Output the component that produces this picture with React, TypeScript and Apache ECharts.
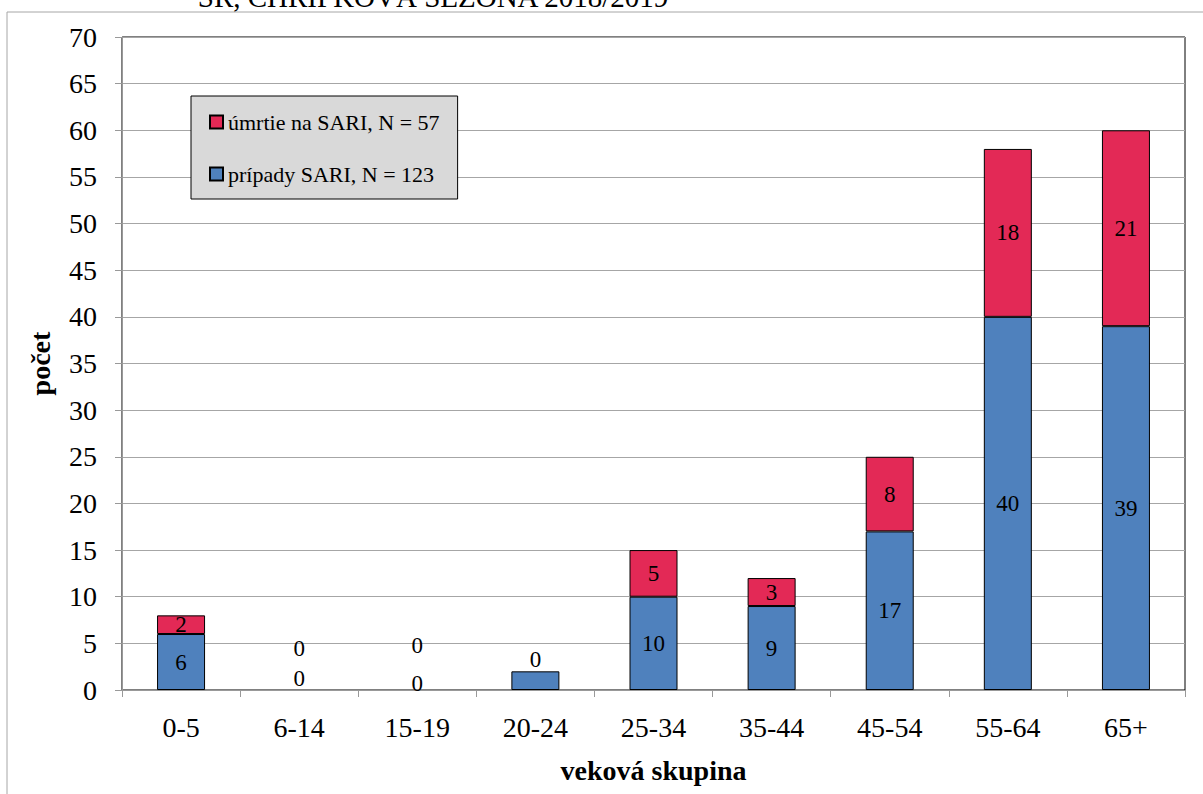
import React, { useEffect, useRef } from "react";
import * as echarts from "echarts";

const categories = ["0-5", "6-14", "15-19", "20-24", "25-34", "35-44", "45-54", "55-64", "65+"];
const casesSari = [6, 0, 0, 2, 10, 9, 17, 40, 39];
const deathsSari = [2, 0, 0, 0, 5, 3, 8, 18, 21];
const yTicks = { min: 0, max: 70, interval: 5 };
const casesName = "prípady SARI, N = 123";
const deathsName = "úmrtie na SARI, N = 57";
const titleText = "SR, CHRIPKOVÁ SEZÓNA 2018/2019";

// label tweaks (style only)
const casesLabelOffsets: Record<number, number[]> = { 1: [0, -12], 2: [0, -7] };
const casesLabelHidden = [3];
const deathsLabelOffsets: Record<number, number[]> = { 1: [0, -42], 2: [0, -45], 3: [0, -12] };

const FONT = "'Liberation Serif', 'Times New Roman', serif";

export default function App() {
  const ref = useRef<HTMLDivElement>(null);
  useEffect(() => {
    if (!ref.current) return;
    const chart = echarts.init(ref.current, null, { renderer: "svg" });
    const labelBase = { show: true, position: "inside", color: "#000", fontFamily: FONT, fontSize: 23 };
    const casesData = casesSari.map((v, i) => {
      const item: any = { value: v };
      if (v === 0) item.itemStyle = { borderWidth: 0 };
      if (casesLabelHidden.includes(i)) item.label = { show: false };
      else if (casesLabelOffsets[i]) item.label = { offset: casesLabelOffsets[i] };
      return item;
    });
    const deathsData = deathsSari.map((v, i) => {
      const item: any = { value: v };
      if (v === 0) item.itemStyle = { borderWidth: 0 };
      if (deathsLabelOffsets[i]) item.label = { offset: deathsLabelOffsets[i] };
      return item;
    });
    chart.setOption({
      animation: false,
      backgroundColor: "#fff",
      textStyle: { fontFamily: FONT },
      grid: {
        left: 122,
        right: 18,
        top: 37,
        bottom: 104,
        containLabel: false,
        show: true,
        borderColor: "#000",
        borderWidth: 1,
        backgroundColor: "transparent",
      },
      legend: {
        left: 191,
        top: 96,
        orient: "vertical",
        data: [deathsName, casesName],
        backgroundColor: "#d9d9d9",
        borderColor: "#000",
        borderWidth: 1,
        padding: [15, 18, 14, 18],
        itemGap: 30,
        itemWidth: 13,
        itemHeight: 13,
        icon: "rect",
        textStyle: { fontFamily: FONT, fontSize: 22, color: "#000" },
        selectedMode: false,
      },
      xAxis: {
        type: "category",
        data: categories,
        name: "veková skupina",
        nameLocation: "middle",
        nameGap: 66,
        nameTextStyle: { fontFamily: FONT, fontSize: 28, fontWeight: "bold", color: "#000" },
        axisLine: { show: true, lineStyle: { color: "#999", width: 1 } },
        axisTick: { show: true, length: 7, alignWithLabel: false, lineStyle: { color: "#999" } },
        axisLabel: { fontFamily: FONT, fontSize: 28, color: "#000", margin: 23 },
      },
      yAxis: {
        type: "value",
        min: yTicks.min,
        max: yTicks.max,
        interval: yTicks.interval,
        name: "počet",
        nameLocation: "middle",
        nameGap: 68,
        nameTextStyle: { fontFamily: FONT, fontSize: 28, fontWeight: "bold", color: "#000" },
        axisLine: { show: true, lineStyle: { color: "#999", width: 1 } },
        axisTick: { show: true, length: 7, lineStyle: { color: "#999" } },
        axisLabel: { fontFamily: FONT, fontSize: 28, color: "#000", margin: 25 },
        splitLine: { show: true, lineStyle: { color: "#a6a6a6", width: 1 } },
      },
      series: [
        {
          name: casesName,
          type: "bar",
          stack: "a",
          barWidth: 48,
          data: casesData,
          itemStyle: { color: "#4F81BD", borderColor: "#000", borderWidth: 1 },
          label: labelBase,
          z: 3,
        },
        {
          name: deathsName,
          type: "bar",
          stack: "a",
          barWidth: 48,
          data: deathsData,
          itemStyle: { color: "#E32956", borderColor: "#000", borderWidth: 1 },
          label: labelBase,
          z: 3,
        },
      ],
      graphic: [
        { type: "line", shape: { x1: 7, y1: 12, x2: 1203, y2: 12 }, style: { stroke: "#a6a6a6", lineWidth: 1 }, silent: true },
        { type: "line", shape: { x1: 7, y1: 12, x2: 7, y2: 794 }, style: { stroke: "#a6a6a6", lineWidth: 1 }, silent: true },
        {
          type: "text",
          x: 433,
          y: 11,
          style: {
            text: titleText,
            fontFamily: FONT,
            fontSize: 29,
            fill: "#000",
            textAlign: "center",
            textVerticalAlign: "bottom",
            verticalAlign: "bottom",
          },
          silent: true,
        },
      ],
    });
    return () => chart.dispose();
  }, []);
  return (
    <div
      ref={ref}
      style={{ position: "fixed", left: 0, top: 0, width: 1203, height: 794 }}
    />
  );
}
